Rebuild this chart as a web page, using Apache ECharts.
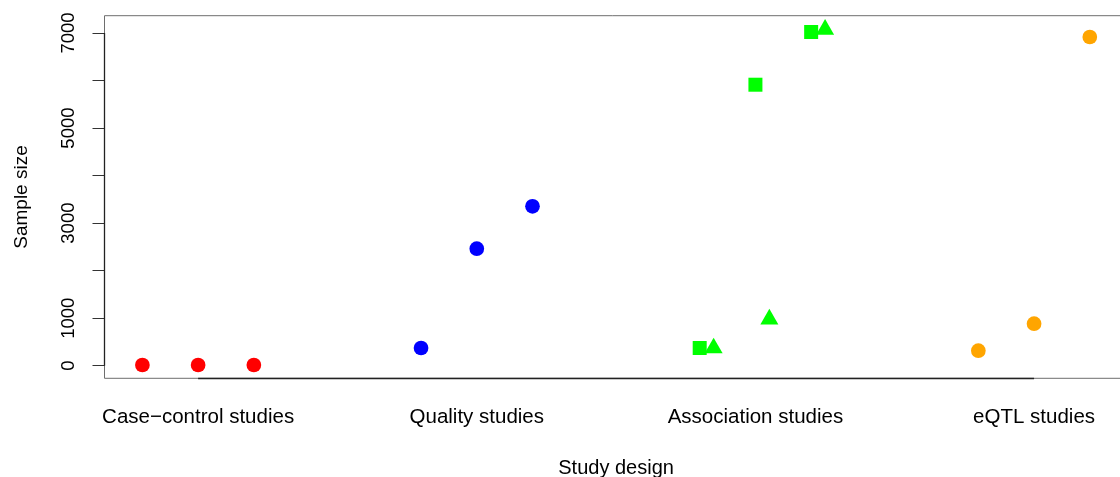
<!DOCTYPE html>
<html>
<head>
<meta charset="utf-8">
<script src="https://cdn.jsdelivr.net/npm/echarts@6/dist/echarts.min.js"></script>
<style>
html,body{margin:0;padding:0;background:#fff;}
#chart{width:1120px;height:477px;}
</style>
</head>
<body>
<div id="chart"></div>
<script>
// ---- data ----
const categories = ["Case\u2212control studies", "Quality studies", "Association studies", "eQTL studies"];
const categoryPositions = [1, 2, 3, 4];
const yTickValues = [0, 1000, 2000, 3000, 4000, 5000, 6000, 7000];
const yLabelValues = [0, 1000, 3000, 5000, 7000];

const caseControlX = [0.8, 1.0, 1.2];
const caseControlY = [15, 15, 15];
const qualityX = [1.8, 2.0, 2.2];
const qualityY = [372, 2462, 3354];
const assocSquareX = [2.8, 3.0, 3.2];
const assocSquareY = [372, 5912, 7021];
const assocTriangleX = [2.85, 3.05, 3.25];
const assocTriangleY = [370, 980, 7073];
const eqtlX = [3.8, 4.0, 4.2];
const eqtlY = [316, 884, 6916];

const X_MIN = 0.664, X_MAX = 4.336;
const Y_MIN = -265, Y_MAX = 7364;

function pairs(xs, ys) { return xs.map((x, i) => [x, ys[i]]); }

const font = "Liberation Sans, Arial, Helvetica, sans-serif";

const chart = echarts.init(document.getElementById('chart'), null, {renderer: 'canvas'});

function scatter(name, xs, ys, color, symbol, size, offset) {
  return {
    name: name,
    type: 'scatter',
    data: pairs(xs, ys),
    symbol: symbol,
    symbolSize: size,
    symbolOffset: offset || [0, 0],
    itemStyle: {color: color, opacity: 1},
    emphasis: {disabled: true},
    silent: true,
    z: 5
  };
}

const option = {
  animation: false,
  backgroundColor: '#fff',
  grid: {
    left: 104.5, top: 15.7, bottom: 98.7, right: -7.7,
    outerBoundsMode: 'none', containLabel: false,
    show: true, borderColor: '#6e6e6e', borderWidth: 1, backgroundColor: 'transparent'
  },
  xAxis: {
    type: 'value', min: X_MIN, max: X_MAX,
    name: 'Study design', nameLocation: 'middle', nameGap: 80,
    nameTextStyle: {fontFamily: font, fontSize: 20, color: '#000'},
    axisLine: {show: false},
    axisTick: {show: false},
    splitLine: {show: false},
    axisLabel: {
      customValues: categoryPositions,
      formatter: function (v) { const i = categoryPositions.indexOf(Math.round(v)); return i >= 0 ? categories[i] : ''; },
      fontFamily: font, fontSize: 20.5, color: '#000', margin: 29
    }
  },
  yAxis: {
    type: 'value', min: Y_MIN, max: Y_MAX,
    name: 'Sample size', nameLocation: 'middle', nameGap: 73, nameRotate: 90,
    nameTextStyle: {fontFamily: font, fontSize: 19, color: '#000'},
    axisLine: {show: false},
    axisTick: {show: true, customValues: yTickValues, length: 12, lineStyle: {color: '#333', width: 1}},
    splitLine: {show: false},
    axisLabel: {
      customValues: yLabelValues, rotate: 90,
      formatter: function (v) { return String(Math.round(v)); },
      fontFamily: font, fontSize: 18.5, color: '#000', margin: 26
    }
  },
  series: [
    scatter('Case-control', caseControlX, caseControlY, '#FF0000', 'circle', 14.7),
    scatter('Quality', qualityX, qualityY, '#0000FF', 'circle', 14.7),
    scatter('Association (square)', assocSquareX, assocSquareY, '#00FF00', 'rect', 14),
    scatter('Association (triangle)', assocTriangleX, assocTriangleY, '#00FF00', 'triangle', [18, 15.7], [0, -2.6]),
    scatter('eQTL', eqtlX, eqtlY, '#FFA500', 'circle', 14.7),
    {
      type: 'scatter', data: [], silent: true,
      markLine: {
        silent: true, symbol: ['none', 'none'], animation: false,
        label: {show: false},
        lineStyle: {color: '#222', width: 1.3, type: 'solid'},
        data: [
          [{coord: [categoryPositions[0], Y_MIN]}, {coord: [categoryPositions[categoryPositions.length - 1], Y_MIN]}],
          [{coord: [X_MIN, yTickValues[0]]}, {coord: [X_MIN, yTickValues[yTickValues.length - 1]]}]
        ]
      }
    }
  ]
};
chart.setOption(option);
</script>
</body>
</html>
